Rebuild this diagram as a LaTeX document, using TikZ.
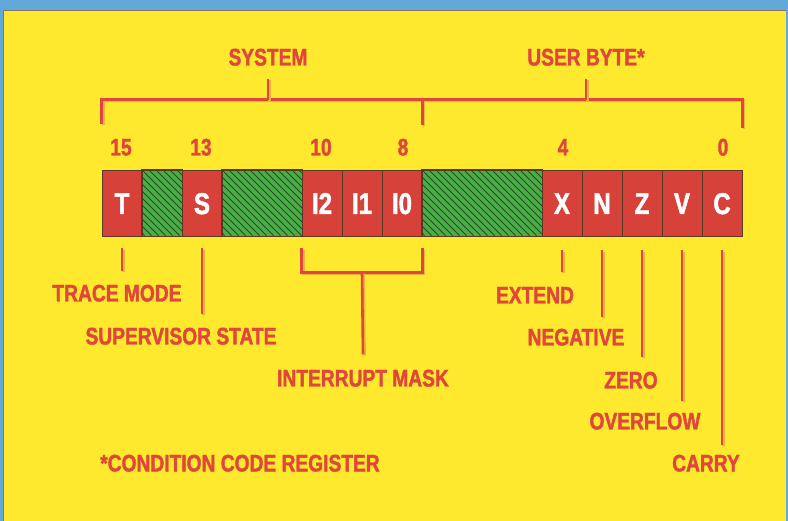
\documentclass[tikz,border=0pt]{standalone}
\usepackage{fontspec}
\newfontfamily\heavy{Liberation Sans}[UprightFont=* Bold, BoldFont=* Bold, FakeStretch=0.8, FakeBold=1.6]
\usetikzlibrary{calc}
\definecolor{bgyellow}{HTML}{FFE92E}
\definecolor{frameblue}{HTML}{62A9D9}
\definecolor{cellred}{HTML}{D6423A}
\definecolor{txtred}{HTML}{E0473B}
\definecolor{shadowc}{HTML}{EDB23E}
\definecolor{hgreen}{HTML}{4AAE46}
\definecolor{hdark}{HTML}{2A4A24}
\definecolor{edgec}{HTML}{5B3A22}
\begin{document}
\begin{tikzpicture}[x=1pt,y=-1pt,
  lbl/.style={font=\heavy\fontsize{24}{24}\selectfont, text=txtred, inner sep=0pt, text height=17pt, text depth=0pt},
  bitcell/.style={draw=edgec, line width=0.8pt, fill=cellred, minimum height=66pt, inner sep=0pt, text=white, text height=22pt, text depth=0pt, font=\heavy\fontsize{30}{30}\selectfont},
  hatchcell/.style={draw=edgec, line width=0.8pt, fill=hgreen, minimum height=66pt, inner sep=0pt},
  hatchline/.style={draw=hdark, line width=1.0pt},
  rline/.style={draw=txtred, line width=2.6pt, preaction={draw=shadowc, line width=2.6pt, transform canvas={shift={(1.6pt,-1.2pt)}}}}
]
\useasboundingbox (0,0) rectangle (788,521);
\fill[frameblue] (0,0) rectangle (788,521);
\fill[bgyellow] (3,10) rectangle (786,521);
\draw[edgec!70, line width=0.8pt] (3,521) -- (3,10) -- (786,10);

% register cells
\node[bitcell, minimum width=40pt] (b15) at (122,203) {T};
\node[hatchcell, minimum width=40pt] (h14) at (162,203) {};
\node[bitcell, minimum width=40pt] (b13) at (202,203) {S};
\node[hatchcell, minimum width=80pt] (h12) at (262,203) {};
\node[bitcell, minimum width=40pt] (b10) at (322,203) {I2};
\node[bitcell, minimum width=40pt] (b9) at (362,203) {I1};
\node[bitcell, minimum width=40pt] (b8) at (402,203) {I0};
\node[hatchcell, minimum width=120pt] (h7) at (482,203) {};
\node[bitcell, minimum width=40pt] (b4) at (562,203) {X};
\node[bitcell, minimum width=40pt] (b3) at (602,203) {N};
\node[bitcell, minimum width=40pt] (b2) at (642,203) {Z};
\node[bitcell, minimum width=40pt] (b1) at (682,203) {V};
\node[bitcell, minimum width=40pt] (b0) at (722,203) {C};

% hatching of the unused bits
\foreach \h in {h14,h12,h7}{
  \begin{scope}
    \clip (\h.north west) rectangle (\h.south east);
    \foreach \k in {-70,-63,...,126}
      \draw[hatchline] ([xshift=\k pt]\h.north west) -- ++(66,66);
  \end{scope}
  \draw[edgec, line width=0.8pt] (\h.north west) rectangle (\h.south east);
}

% labels
\foreach \nm/\px/\py/\tx in {
  sys/268/57/SYSTEM, user/586/57/{USER BYTE*},
  n15/121/147/15, n13/201/147/13, n10/321/147/10, n8/403/147/8, n4/563/147/4, n0/723/147/0,
  trace/117/293/{TRACE MODE}, super/181/336/{SUPERVISOR STATE}, intr/363/378/{INTERRUPT MASK},
  ext/535/295/EXTEND, neg/576/337/NEGATIVE, zero/631/380/ZERO, ovf/645/421/OVERFLOW, carry/706/463/CARRY,
  ccr/240/463/{*CONDITION CODE REGISTER}}
{
  \node[lbl] (\nm) at (\px,\py) {\tx};
}

% top bracket
\coordinate (tl) at ([yshift=70pt]b15.north west);
\coordinate (tr) at ([yshift=70pt]b0.north east);
\draw[rline] ([yshift=46pt]b15.north west) -- (tl) -- (tr) -- ([yshift=42pt]b0.north east);
\draw[rline] (b8.north east |- tl) -- ([yshift=45pt]b8.north east);
\draw[rline] ([yshift=-13pt]sys.south) -- (sys.south |- tl);
\draw[rline] ([yshift=-13pt]user.south) -- (user.south |- tl);

% bottom connectors
\draw[rline] ([yshift=-12pt]b15.south) -- ([yshift=13pt]b15.south |- trace.north);
\draw[rline] ([yshift=-12pt]b13.south) -- ([yshift=13pt]b13.south |- super.north);
\coordinate (im) at ([yshift=-36pt]b9.south);
\draw[rline] ([yshift=-12pt]b10.south west) -- (b10.south west |- im) -- (b8.south east |- im) -- ([yshift=-12pt]b8.south east);
\draw[rline] (im) -- ([yshift=15pt]intr.north);
\draw[rline] ([yshift=-14pt]b4.south) -- ([yshift=14pt]b4.south |- ext.north);
\draw[rline] ([yshift=-14pt]b3.south) -- ([yshift=11pt]b3.south |- neg.north);
\draw[rline] ([yshift=-14pt]b2.south) -- ([yshift=14pt]b2.south |- zero.north);
\draw[rline] ([yshift=-14pt]b1.south) -- ([yshift=11pt]b1.south |- ovf.north);
\draw[rline] ([yshift=-14pt]b0.south) -- ([yshift=9pt]b0.south |- carry.north);
\end{tikzpicture}
\end{document}
